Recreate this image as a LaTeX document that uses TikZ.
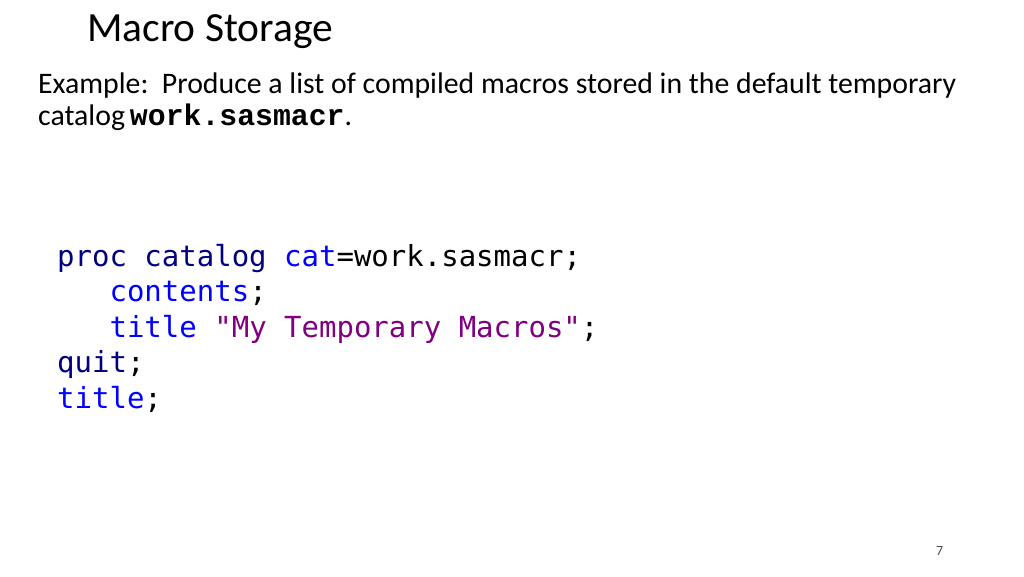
\documentclass[tikz,border=0pt]{standalone}
\usepackage{fontspec}
\setmainfont{Carlito}
\setmonofont{DejaVu Sans Mono}
\newfontfamily\courierb{Liberation Mono}
\definecolor{navy}{HTML}{000080}
\definecolor{kwblue}{HTML}{0000FF}
\definecolor{strpurple}{HTML}{800080}
\begin{document}
\begin{tikzpicture}[x=1pt,y=-1pt,
  txt/.style={anchor=base west,inner sep=0pt},
  code/.style={anchor=base west,inner sep=0pt,font=\fontsize{29}{34}\ttfamily}]
\useasboundingbox (0,0) rectangle (1024,576);
\node[txt,font=\fontsize{41.5}{48}\selectfont] (title) at (87,41) {Macro Storage};
\node[txt,font=\fontsize{29.8}{34}\selectfont] (l1) at (38,93) {Example:\ \ Produce a list of compiled macros stored in the default temporary};
\node[txt,font=\fontsize{29.8}{34}\selectfont] (l2) at (38,125) {catalog\,{\courierb\bfseries work.sasmacr}.};
\node[code] (c1) at (57,266) {\textcolor{navy}{proc catalog} \textcolor{kwblue}{cat}=work.sasmacr;};
\node[code] (c2) at (57,301) {\ \ \ \textcolor{kwblue}{contents};};
\node[code] (c3) at (57,337) {\ \ \ \textcolor{kwblue}{title} \textcolor{strpurple}{"My Temporary Macros"};};
\node[code] (c4) at (57,372) {\textcolor{navy}{quit};};
\node[code] (c5) at (57,408) {\textcolor{kwblue}{title};};
\node[txt,font=\fontsize{14}{16}\selectfont,text=black!70] (pg) at (936,555) {7};
\end{tikzpicture}
\end{document}
